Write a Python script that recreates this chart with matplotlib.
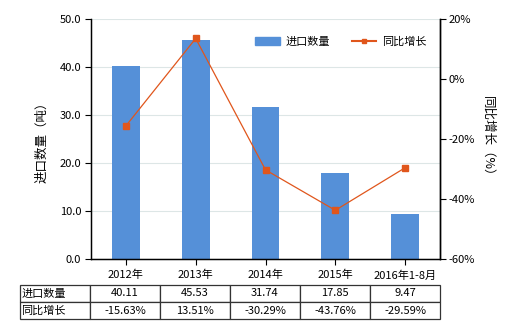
import matplotlib
matplotlib.use("Agg")
import matplotlib.pyplot as plt
from matplotlib.ticker import FuncFormatter, MultipleLocator
from matplotlib.lines import Line2D
from matplotlib.patches import Patch

plt.rcParams['font.family'] = ['Noto Sans CJK SC', 'DejaVu Sans']

categories = ['2012年', '2013年', '2014年', '2015年', '2016年1-8月']
import_qty = [40.11, 45.53, 31.74, 17.85, 9.47]
yoy_growth = [-15.63, 13.51, -30.29, -43.76, -29.59]
qty_labels = ['40.11', '45.53', '31.74', '17.85', '9.47']
growth_labels = ['-15.63%', '13.51%', '-30.29%', '-43.76%', '-29.59%']

bar_color = '#5590D8'
line_color = '#E0561C'

fig = plt.figure(figsize=(5.2, 3.3), dpi=100)
ax = fig.add_axes([91/520, 1-259/330, 349/520, 240/330])
x = list(range(len(categories)))
ax.bar(x, import_qty, width=0.4, color=bar_color, zorder=2)
ax.set_xlim(-0.5, len(categories)-0.5)
ax.set_ylim(0, 50)
ax.yaxis.set_major_locator(MultipleLocator(10))
ax.yaxis.set_major_formatter(FuncFormatter(lambda v, p: f'{v:.1f}'))
ax.grid(axis='y', color='#DDE6E6', linewidth=0.8, zorder=0)
ax.set_axisbelow(True)
ax.set_xticks(x)
ax.set_xticklabels(categories, fontsize=8)
ax.tick_params(axis='both', labelsize=8, length=4, width=0.8, color='black', pad=3)
ax.tick_params(axis='x', pad=4)
for s in ['top']:
    ax.spines[s].set_visible(False)
for s in ['left', 'right', 'bottom']:
    ax.spines[s].set_linewidth(1.0)
ax.set_ylabel('进口数量（吨）', fontsize=9, labelpad=8)

ax2 = ax.twinx()
ax2.plot(x, yoy_growth, color=line_color, linewidth=0.9, marker='s', markersize=5, zorder=3)
ax2.set_ylim(-60, 20)
ax2.yaxis.set_major_locator(MultipleLocator(20))
ax2.yaxis.set_major_formatter(FuncFormatter(lambda v, p: f'{v:.0f}%'))
ax2.tick_params(axis='y', labelsize=8, length=4, width=0.8, pad=2)
ax2.spines['top'].set_visible(False)
ax2.spines['right'].set_linewidth(1.0)
ax2.set_ylabel('同比增长（%）', fontsize=9, rotation=270, labelpad=14)

handles = [Patch(color=bar_color, label='进口数量'),
           Line2D([0], [0], color=line_color, linewidth=1.5, marker='s', markersize=3, label='同比增长')]
ax2.legend(handles=handles, loc='upper right', bbox_to_anchor=(0.99, 0.97), ncol=2, frameon=False,
           fontsize=8, handlelength=2.2, columnspacing=2.0, handletextpad=0.5)

cell_text = [['进口数量'] + qty_labels, ['同比增长'] + growth_labels]
tbl = ax.table(cellText=cell_text, cellLoc='center',
               bbox=[(20-91)/349, (259-319)/240, 420/349, 34/240])
tbl.auto_set_font_size(False)
tbl.set_fontsize(8)
for (r, c), cell in tbl.get_celld().items():
    cell.set_edgecolor('#333333')
    cell.set_linewidth(0.9)
    if c == 0:
        cell.PAD = 0.02
        cell.get_text().set_horizontalalignment('left')

fig.savefig('out.png', dpi=100)
